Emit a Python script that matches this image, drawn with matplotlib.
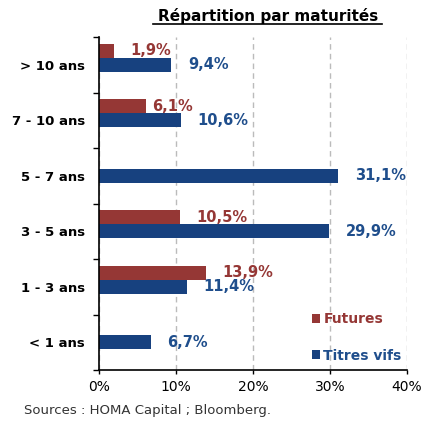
import numpy as np
import matplotlib.pyplot as plt
from matplotlib.ticker import FixedLocator, PercentFormatter

categories = ['> 10 ans', '7 - 10 ans', '5 - 7 ans', '3 - 5 ans', '1 - 3 ans', '< 1 ans']
futures = [1.9, 6.1, np.nan, 10.5, 13.9, np.nan]
titres_vifs = [9.4, 10.6, 31.1, 29.9, 11.4, 6.7]

red = '#953735'
blue = '#17417f'

fig = plt.figure(figsize=(4.22, 4.21), dpi=100)
ax = fig.add_axes([0.2346, 0.1211, 0.7299, 0.7909])

pos = np.arange(len(categories))
h = 0.25
ax.barh(pos - h, futures, height=h, color=red, label='Futures', zorder=3)
ax.barh(pos, titres_vifs, height=h, color=blue, label='Titres vifs', zorder=3)

def fmt(v):
    return ('%.1f%%' % v).replace('.', ',')

for y, v in zip(pos - h, futures):
    if not np.isnan(v):
        ax.annotate(fmt(v), (v, y), xytext=(12 if v != 6.1 else 4.5, 0),
                    textcoords='offset points', va='center', ha='left',
                    color=red, fontsize=10.5, fontweight='bold')
for y, v in zip(pos, titres_vifs):
    ax.annotate(fmt(v), (v, y), xytext=(12, 0), textcoords='offset points',
                va='center', ha='left', color='#1f4e8c', fontsize=10.5,
                fontweight='bold')

ax.set_xlim(0, 40)
ax.set_ylim(len(categories) - 0.5, -0.5)
ax.set_xticks([0, 10, 20, 30, 40])
ax.xaxis.set_major_formatter(PercentFormatter(decimals=0))
ax.set_yticks(pos)
ax.set_yticklabels(categories, fontweight='bold', fontsize=9.5)
ax.yaxis.set_minor_locator(FixedLocator(np.arange(-0.5, len(categories), 1)))
ax.tick_params(axis='y', which='major', length=0, pad=10)
ax.tick_params(axis='y', which='minor', length=4, width=1, direction='out')
ax.tick_params(axis='x', length=3, width=1, labelsize=10, pad=4)

ax.grid(axis='x', color='#bbbbbb', linestyle=(0, (4, 3)), linewidth=1, zorder=0)
ax.spines['top'].set_visible(False)
ax.spines['right'].set_visible(False)
for s in ('left', 'bottom'):
    ax.spines[s].set_linewidth(1.2)
    ax.spines[s].set_zorder(4)

leg = ax.legend(loc='lower right', bbox_to_anchor=(1.023, -0.015), frameon=False,
                prop={'size': 10, 'weight': 'bold'}, labelspacing=1.6,
                handlelength=0.6, handleheight=0.6, handletextpad=0.25)
for t, c in zip(leg.get_texts(), [red, '#1f4e8c']):
    t.set_color(c)

fig.text(0.635, 0.962, 'Répartition par maturités', ha='center', va='center',
         fontsize=11, fontweight='bold')
fig.add_artist(plt.Line2D([0.363, 0.906], [0.942, 0.942], color='black', linewidth=1.2))

fig.text(0.057, 0.025, 'Sources : HOMA Capital ; Bloomberg.', ha='left', va='center',
         fontsize=9.5, color='#333333')

fig.savefig('out.png', dpi=100)
